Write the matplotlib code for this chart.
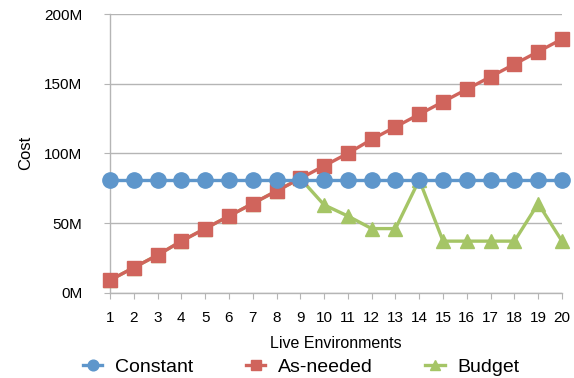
import matplotlib
matplotlib.use("Agg")
import matplotlib.pyplot as plt
from matplotlib.ticker import FuncFormatter

plt.rcParams['font.family'] = ['Liberation Sans', 'DejaVu Sans']

envs = list(range(1, 21))
constant = [81] * 20
as_needed = [9, 18, 27, 37, 46, 55, 64, 73, 82, 91, 100, 110, 119, 128, 137, 146, 155, 164, 173, 182]
budget = [9, 18, 27, 37, 46, 55, 64, 73, 82, 63, 55, 46, 46, 81, 37, 37, 37, 37, 64, 37]
yticks = [0, 50, 100, 150, 200]

c_blue = '#5E96CB'
c_red = '#D0645C'
c_green = '#A5C566'

fig = plt.figure(figsize=(5.74, 3.78), dpi=100)
ax = fig.add_axes([110/574, 1 - 292.7/378, (562-110)/574, (292.7-14)/378])

lb, = ax.plot(envs, budget, color=c_green, lw=2.4, marker='^', ms=10, zorder=3, clip_on=False)
la, = ax.plot(envs, as_needed, color=c_red, lw=2.4, marker='s', ms=10, zorder=4, clip_on=False)
lc, = ax.plot(envs, constant, color=c_blue, lw=2.4, marker='o', ms=11, zorder=5, clip_on=False)

ax.set_xlim(1, 20)
ax.set_ylim(0, 200)
ax.set_yticks(yticks)
ax.yaxis.set_major_formatter(FuncFormatter(lambda v, p: f"{int(v)}M"))
ax.set_xticks(envs)
ax.grid(axis='y', color='#B5B5B5', lw=1)
ax.set_axisbelow(True)
for s in ['top', 'right']:
    ax.spines[s].set_visible(False)
for s in ['left', 'bottom']:
    ax.spines[s].set_color('#B5B5B5')
    ax.spines[s].set_linewidth(1)
ax.tick_params(axis='both', colors='#B5B5B5', length=4, labelcolor='black', labelsize=11)
ax.tick_params(axis='x', pad=9)
ax.tick_params(axis='y', pad=16)

ax.set_xlabel('Live Environments', fontsize=11.5, labelpad=8)
ax.set_ylabel('Cost', fontsize=12, labelpad=8)

fig.legend([lc, la, lb], ['Constant', 'As-needed', 'Budget'], loc='center left',
           bbox_to_anchor=(83/574, 1 - 367/378), ncol=3, frameon=False,
           fontsize=14, columnspacing=2.7, handlelength=1.0, handletextpad=0.65,
           markerscale=0.7, borderpad=0, borderaxespad=0)

fig.savefig('out.png', dpi=100)
